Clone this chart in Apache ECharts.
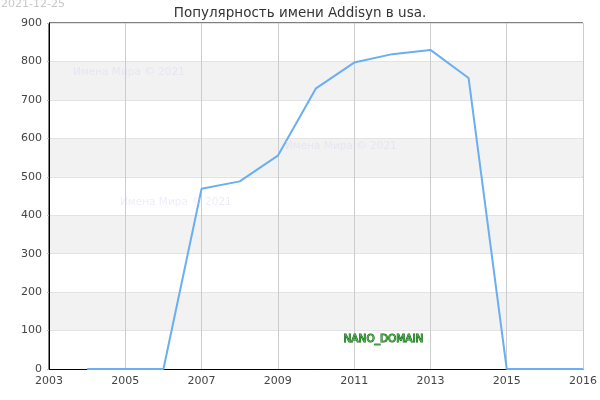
<!DOCTYPE html>
<html><head><meta charset="utf-8">
<script src="https://cdn.jsdelivr.net/npm/echarts@6/dist/echarts.min.js"></script>
<style>html,body{margin:0;padding:0;background:#fff}#c{width:600px;height:400px}</style>
</head><body><div id="c"></div>
<script>
var years = [2004, 2005, 2006, 2007, 2008, 2009, 2010, 2011, 2012, 2013, 2014, 2015, 2016, 2017];
var counts = [0, 0, 0, 469, 488, 555, 730, 797, 819, 830, 757, 0, 0, 0];
var xTickValues = [2003, 2005, 2007, 2009, 2011, 2013, 2015, 2017];
var xTickLabels = ['2003', '2005', '2007', '2009', '2011', '2013', '2015', '2016'];
var titleText = 'Популярность имени Addisyn в usa.';
var dateText = '2021-12-25';
var watermark = 'Имена Мира © 2021';
var brand = 'NANO_DOMAIN';

var font = 'DejaVu Sans';
var chart = echarts.init(document.getElementById('c'), null, {renderer: 'canvas'});
chart.setOption({
  animation: false,
  backgroundColor: '#fff',
  title: {text: titleText, left: 'center', top: 1,
    textStyle: {fontFamily: font, fontSize: 13.5, fontWeight: 'normal', color: '#333'}},
  grid: {left: 49, right: 15, top: 23, bottom: 31, show: true, borderColor: '#000', borderWidth: 1, backgroundColor: 'transparent'},
  xAxis: {type: 'value', min: 2003, max: 2017, interval: 2,
    axisLine: {show: true, lineStyle: {color: '#000'}},
    axisTick: {show: false},
    axisLabel: {fontFamily: font, fontSize: 11, color: '#444', margin: 7,
      formatter: function (v) { var i = xTickValues.indexOf(v); return i >= 0 ? xTickLabels[i] : ''; }},
    splitLine: {show: true, lineStyle: {color: '#ccc'}}},
  yAxis: {type: 'value', min: 0, max: 900, interval: 100,
    axisLine: {show: true, lineStyle: {color: '#000'}},
    axisTick: {show: true, length: 2, lineStyle: {color: '#bbb'}},
    axisLabel: {fontFamily: font, fontSize: 11, color: '#444', margin: 7},
    splitLine: {show: true, lineStyle: {color: '#e2e2e2'}},
    splitArea: {show: true, areaStyle: {color: ['#fff', '#f2f2f2']}}},
  series: [{type: 'line', data: years.map(function (y, i) { return [y, counts[i]]; }),
    symbol: 'none', lineStyle: {color: '#6aaff2', width: 2}, z: 5}],
  graphic: [
    {type: 'text', left: 1, top: -1, z: 10, style: {text: dateText, font: '11px "DejaVu Sans"', fill: '#c8c8c8'}},
    {type: 'text', left: 73, top: 67, z: 10, style: {text: watermark, font: '10.5px "DejaVu Sans"', fill: 'rgba(215,215,245,0.45)'}},
    {type: 'text', left: 120, top: 197, z: 10, style: {text: watermark, font: '10.5px "DejaVu Sans"', fill: 'rgba(215,215,245,0.45)'}},
    {type: 'text', left: 285, top: 141, z: 10, style: {text: watermark, font: '10.5px "DejaVu Sans"', fill: 'rgba(215,215,245,0.45)'}},
    {type: 'text', left: 343, top: 333, z: 10, style: {text: brand, font: '10.5px "DejaVu Sans"', fill: '#4cbb4c', stroke: '#135c13', lineWidth: 1}}
  ]
});
</script></body></html>
